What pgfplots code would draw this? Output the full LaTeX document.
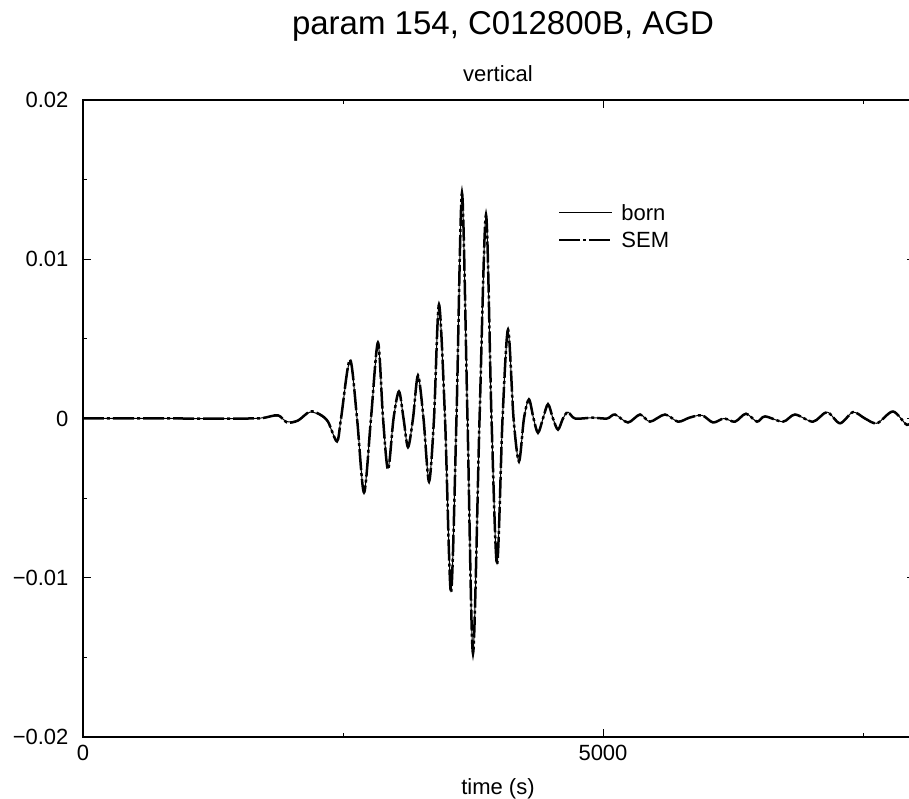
\documentclass[border=0pt]{standalone}
\usepackage{fontspec}
\setmainfont{Liberation Sans}
\usepackage{pgfplots}
\usepackage{pgfplotstable}
\pgfplotsset{compat=1.18}

% SEM trace
\pgfplotstableread{
t u
0 0
800 0
1606 0
1731 0.00003
1875 0.0002
1962 -0.00025
2067 -0.00013
2183 0.00044
2279 0.00025
2356 -0.0002
2442 -0.00144
2481 0
2567 0.0037
2635 0
2702 -0.00465
2769 0
2836 0.00477
2885 0
2933 -0.0032
2986 0
3038 0.0017
3082 0
3125 -0.0018
3173 0
3221 0.0027
3274 0
3327 -0.00396
3375 0
3423 0.00716
3481 0
3538 -0.01093
3591 0
3644 0.01417
3697 0
3750 -0.01476
3813 0
3875 0.0128
3928 0
3981 -0.00917
4034 0
4087 0.00559
4140 0
4192 -0.0027
4240 0
4288 0.0012
4332 0
4375 -0.0009
4423 0
4471 0.0009
4519 0
4567 -0.0007
4615 0
4663 0.0004
4731 0
4900 0.00005
5040 0
5115 0.00025
5240 -0.00025
5356 0.00025
5452 -0.0002
5596 0.00025
5721 -0.0002
5830 0.00005
5952 0.0002
6058 -0.00025
6163 0
6269 -0.0002
6375 0.0003
6481 -0.0002
6557 0.00013
6731 -0.0002
6846 0.00025
7019 -0.0002
7154 0.0004
7279 -0.0003
7404 0.0004
7519 0
7635 -0.0003
7788 0.00044
7923 -0.0004
7990 0
}\semdata

% Born approximation, nearly the same
\pgfplotstableread{
t u
0 0
800 0
1606 0
1731 0.00005
1875 0.00015
1962 -0.0002
2067 -0.0001
2183 0.0004
2279 0.0002
2356 -0.00025
2442 -0.0014
2481 0
2567 0.0036
2635 0
2702 -0.0046
2769 0
2836 0.0047
2885 0
2933 -0.0031
2986 0
3038 0.0017
3082 0
3125 -0.0018
3173 0
3221 0.0027
3274 0
3327 -0.0039
3375 0
3423 0.0071
3481 0
3538 -0.0108
3591 0
3644 0.0141
3697 0
3750 -0.0147
3813 0
3875 0.0127
3928 0
3981 -0.0091
4034 0
4087 0.0055
4140 0
4192 -0.0027
4240 0
4288 0.0012
4332 0
4375 -0.0009
4423 0
4471 0.0009
4519 0
4567 -0.0007
4615 0
4663 0.0004
4731 0
4900 0.00005
5040 0
5115 0.00025
5240 -0.00025
5356 0.00025
5452 -0.0002
5596 0.00025
5721 -0.0002
5830 0.00005
5952 0.0002
6058 -0.00025
6163 0
6269 -0.0002
6375 0.0003
6481 -0.0002
6557 0.00013
6731 -0.0002
6846 0.00025
7019 -0.0002
7154 0.0004
7279 -0.0003
7404 0.0004
7519 0
7635 -0.0003
7788 0.00044
7923 -0.0004
7990 0
}\borndata

\begin{document}
\begin{tikzpicture}
\begin{axis}[
    at={(0,0)}, anchor=south west,
    width=832pt, height=637pt, scale only axis,
    xmin=0, xmax=8000, ymin=-0.02, ymax=0.02,
    xtick={0,5000}, xticklabels={0,5000},
    minor xtick={2500,7500},
    ytick={-0.02,-0.01,0,0.01,0.02},
    yticklabels={−0.02,−0.01,0,0.01,0.02},
    minor ytick={-0.015,-0.005,0.005,0.015},
    scaled y ticks=false,
    tick align=inside,
    major tick length=8pt, minor tick length=4pt,
    every tick/.append style={black, line width=1pt},
    axis line style={line width=1.2pt},
    ticklabel style={font=\fontsize{22}{26}\selectfont},
    yticklabel style={xshift=-11pt},
    xticklabel style={yshift=-5pt},
    legend cell align=left,
    legend image code/.code={\draw[#1] (0pt,0pt) -- (53pt,0pt);},
    legend style={draw=none, fill=none, at={(axis description cs:0.567,0.843)},
        anchor=north west, font=\fontsize{22}{26}\selectfont,
        row sep=6pt, column sep=6pt},
]
\addplot[black, line width=1pt, smooth] table[x=t, y=u] {\borndata};
\addlegendentry{born}
\addplot[black, line width=2.5pt, smooth, dash pattern=on 21pt off 3pt on 3pt off 3pt]
    table[x=t, y=u] {\semdata};
\addlegendentry{SEM}
\end{axis}
\node[anchor=base, font=\fontsize{33}{39}\selectfont] at (420pt,702pt) {param 154, C012800B, AGD};
\node[anchor=base, font=\fontsize{22}{26}\selectfont] at (415pt,655pt) {vertical};
\node[anchor=base, font=\fontsize{22}{26}\selectfont] at (415pt,-58pt) {time (s)};
\pgfresetboundingbox
\path[use as bounding box] (-83pt,-62pt) rectangle (826pt,737pt);
\end{tikzpicture}
\end{document}
